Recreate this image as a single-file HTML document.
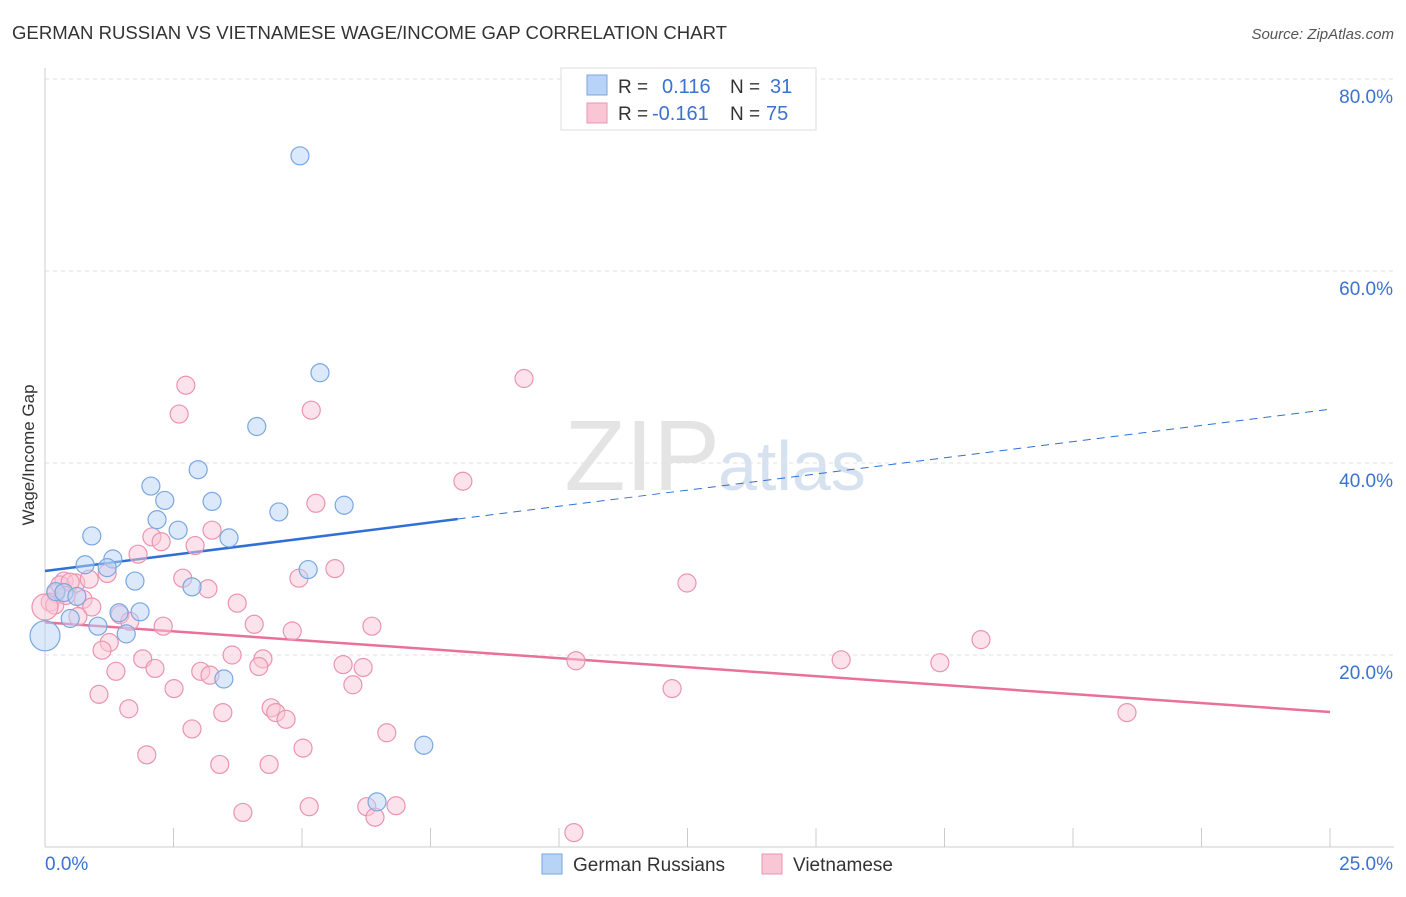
<!DOCTYPE html>
<html><head><meta charset="utf-8"><style>
body{margin:0;background:#fff;font-family:"Liberation Sans",sans-serif;}
svg text{font-family:"Liberation Sans",sans-serif;}
</style></head><body>
<svg id="chart" width="1406" height="892" xmlns="http://www.w3.org/2000/svg">
<text x="12" y="39" font-size="18" fill="#333" textLength="715" lengthAdjust="spacingAndGlyphs">GERMAN RUSSIAN VS VIETNAMESE WAGE/INCOME GAP CORRELATION CHART</text>
<text x="1394" y="39" font-size="15" fill="#555" font-style="italic" text-anchor="end">Source: ZipAtlas.com</text>
<text x="720" y="490" font-size="100" fill="#e4e4e4" text-anchor="end" font-family="Liberation Serif">ZIP</text>
<text x="718" y="490" font-size="70" fill="#d6e2f0">atlas</text>
<g id="grid"></g><g id="axes"></g><g id="lines"></g><g id="pts"></g>
<text x="34" y="455" font-size="17" fill="#333" transform="rotate(-90 34 455)" text-anchor="middle">Wage/Income Gap</text>
<g>
<rect x="561" y="68" width="255" height="62" fill="#fff" stroke="#ddd"/>
<rect x="587" y="75" width="20" height="20" fill="#b7d3f5" stroke="#7aa7e0"/>
<rect x="587" y="103" width="20" height="20" fill="#f9c6d6" stroke="#eb94b0"/>
<text x="618" y="93" font-size="19" fill="#333">R = </text><text x="662" y="93" font-size="20" fill="#3b72d0">0.116</text>
<text x="730" y="93" font-size="19" fill="#333">N = </text><text x="770" y="93" font-size="20" fill="#3b72d0">31</text>
<text x="618" y="120" font-size="19" fill="#333">R = </text><text x="652" y="120" font-size="20" fill="#3b72d0">-0.161</text>
<text x="730" y="120" font-size="19" fill="#333">N = </text><text x="766" y="120" font-size="20" fill="#3b72d0">75</text>
</g>
<g>
<rect x="542" y="854" width="20" height="20" fill="#b7d3f5" stroke="#7aa7e0"/>
<text x="573" y="871" font-size="19" fill="#333">German Russians</text>
<rect x="762" y="854" width="20" height="20" fill="#f9c6d6" stroke="#eb94b0"/>
<text x="793" y="871" font-size="19" fill="#333">Vietnamese</text>
</g>
</svg>
<script>
const yTicks=[20,40,60,80];
const xTickCount=10;
const blueX=[4.96,5.35,4.12,2.98,2.06,2.33,3.25,5.82,4.55,2.18,2.59,0.91,3.58,1.32,0.78,1.21,5.12,1.75,2.86,0.21,0.37,0.62,1.44,1.85,0.49,1.03,1.58,0.0,3.48,7.37,6.46];
const blueY=[72.0,49.4,43.8,39.3,37.6,36.1,36.0,35.6,34.9,34.1,33.0,32.4,32.2,30.0,29.4,29.1,28.9,27.7,27.1,26.6,26.5,26.1,24.4,24.5,23.8,23.0,22.2,22.0,17.5,10.6,4.7];
const pinkX=[2.74,9.32,2.61,5.18,8.13,5.27,3.25,2.08,2.26,2.92,1.81,5.64,1.21,0.37,0.6,0.86,2.68,4.94,12.49,3.17,0.21,0.1,0.19,0.74,0.91,3.74,0.64,1.46,1.65,4.07,2.3,6.36,4.81,18.21,1.25,1.11,1.9,3.64,4.24,10.33,15.49,17.41,2.14,5.8,4.16,6.19,3.03,1.38,3.21,5.99,2.51,12.2,1.05,1.63,3.46,4.4,4.49,4.69,21.05,2.86,6.65,5.02,1.98,3.4,4.36,3.85,5.14,6.26,6.83,6.42,10.29,0.0,0.29,0.49,0.41];
const pinkY=[48.1,48.8,45.1,45.5,38.1,35.8,33.0,32.3,31.8,31.4,30.5,29.0,28.5,27.7,27.5,27.9,28.0,28.0,27.5,26.9,26.4,25.5,25.2,25.8,25.0,25.4,24.0,24.2,23.5,23.2,23.0,23.0,22.5,21.6,21.3,20.5,19.6,20.0,19.6,19.4,19.5,19.2,18.6,19.0,18.8,18.7,18.3,18.3,17.9,16.9,16.5,16.5,15.9,14.4,14.0,14.5,14.0,13.3,14.0,12.3,11.9,10.3,9.6,8.6,8.6,3.6,4.2,4.2,4.3,3.1,1.5,25.0,27.3,27.6,26.2];
const blueLine=[28.75,45.6], pinkLine=[23.4,14.06];
const X0=45,X1=1330,Y0=847,YS=9.6;
const sx=v=>X0+v/25*(X1-X0), sy=v=>Y0-v*YS;
const NS="http://www.w3.org/2000/svg";
function mk(t,a,p){const e=document.createElementNS(NS,t);for(const k in a)e.setAttribute(k,a[k]);document.getElementById(p).appendChild(e);return e;}
yTicks.forEach(t=>{
 const l=mk('line',{x1:X0,x2:1394,y1:sy(t),y2:sy(t),stroke:'#e2e2e2','stroke-dasharray':'4,4'},'grid');
 
 
 const tx=mk('text',{x:1393,y:sy(t)+24,'font-size':19,fill:'#3b72d0','text-anchor':'end'},'grid');
 tx.textContent=t.toFixed(1)+'%';
 
 
});
mk('line',{x1:X0,x2:X0,y1:68,y2:Y0,stroke:'#ccc'},'axes');
mk('line',{x1:X0,x2:1394,y1:Y0,y2:Y0,stroke:'#ccc'},'axes');
for(let i=0;i<=xTickCount;i++){const x=X0+i*(X1-X0)/xTickCount;mk('line',{x1:x,x2:x,y1:828,y2:Y0,stroke:'#ccc'},'axes');}
let t0=mk('text',{x:45,y:870,'font-size':19,fill:'#3b72d0'},'axes');t0.textContent='0.0%';


let t1=mk('text',{x:1393,y:870,'font-size':19,fill:'#3b72d0','text-anchor':'end'},'axes');t1.textContent='25.0%';


function pt(x,y,r,f,s,n){const c=mk('circle',{cx:sx(x),cy:sy(y),r:r,fill:f,stroke:s,'stroke-width':1.2},'pts');
 
 }
pinkX.forEach((x,i)=>pt(x,pinkY[i],i==71?13:9,'rgba(249,198,214,0.5)','#eb94b0','vietnamese-point'));
blueX.forEach((x,i)=>pt(x,blueY[i],i==27?15:9,'rgba(183,211,245,0.5)','#7aa7e0','german-russian-point'));
const bm=8.03, by=v=>blueLine[0]+(blueLine[1]-blueLine[0])*v/25;
let b1=mk('line',{x1:sx(0),y1:sy(by(0)),x2:sx(bm),y2:sy(by(bm)),stroke:'#2f6fd6','stroke-width':2.5},'lines');


let b2=mk('line',{x1:sx(bm),y1:sy(by(bm)),x2:sx(25),y2:sy(by(25)),stroke:'#2f6fd6','stroke-width':1,'stroke-dasharray':'8,6'},'lines');


let p1=mk('line',{x1:sx(0),y1:sy(pinkLine[0]),x2:sx(25),y2:sy(pinkLine[1]),stroke:'#e8709a','stroke-width':2.5},'lines');


</script>
</body></html>
